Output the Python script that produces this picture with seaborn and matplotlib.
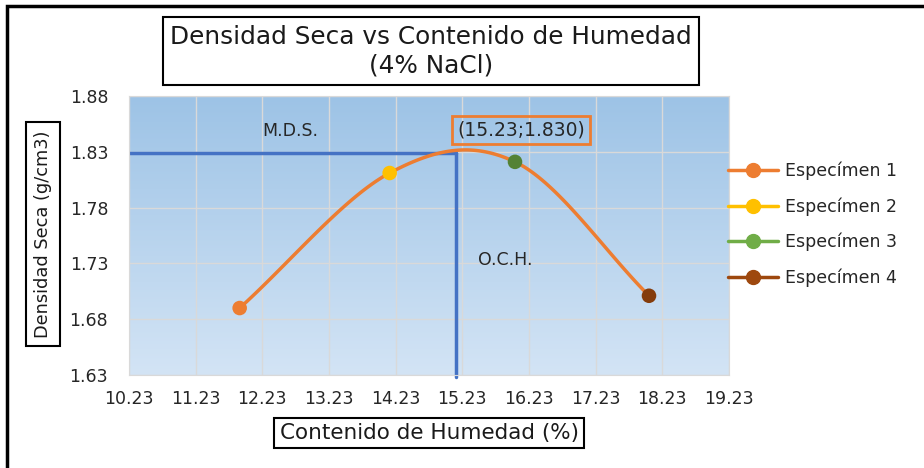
import numpy as np
import pandas as pd
import seaborn as sns
from matplotlib import pyplot as plt
from matplotlib.patches import Rectangle
from matplotlib.lines import Line2D
from matplotlib.colors import LinearSegmentedColormap

# data
specimens = ['Especímen 1', 'Especímen 2', 'Especímen 3', 'Especímen 4']
humedad = [11.89, 14.14, 16.02, 18.03]
densidad = [1.690, 1.811, 1.821, 1.701]
peak_label = '(15.23;1.830)'
guide_x = 15.14
guide_y = 1.829
x_ticks = [10.23, 11.23, 12.23, 13.23, 14.23, 15.23, 16.23, 17.23, 18.23, 19.23]
y_ticks = [1.63, 1.68, 1.73, 1.78, 1.83, 1.88]

marker_colors = ['#ed7d31', '#ffc000', '#548235', '#843c0c']
legend_colors = ['#ed7d31', '#ffc000', '#70ad47', '#9e480e']
line_color = '#ed7d31'
blue = '#4472c4'

df = pd.DataFrame({'humedad': humedad, 'densidad': densidad, 'specimen': specimens})


def smooth_curve(xs, ys, n=40):
    # catmull-rom smoothing, like Excel's smoothed scatter lines
    px = np.array(xs, float)
    py = np.array(ys, float)
    px = np.concatenate([[2 * px[0] - px[1]], px, [2 * px[-1] - px[-2]]])
    py = np.concatenate([[2 * py[0] - py[1]], py, [2 * py[-1] - py[-2]]])
    out_x, out_y = [], []
    t = np.linspace(0, 1, n)
    for i in range(1, len(px) - 2):
        for arr, out in ((px, out_x), (py, out_y)):
            p0, p1, p2, p3 = arr[i - 1], arr[i], arr[i + 1], arr[i + 2]
            out.extend(0.5 * (2 * p1 + (-p0 + p2) * t
                              + (2 * p0 - 5 * p1 + 4 * p2 - p3) * t ** 2
                              + (-p0 + 3 * p1 - 3 * p2 + p3) * t ** 3))
    return out_x, out_y


sns.set_style('white')
plt.rcParams['font.family'] = ['DejaVu Sans']

fig = plt.figure(figsize=(9.24, 4.68), dpi=100)
ax = fig.add_axes([129 / 924, 1 - 375 / 468, 600 / 924, 279 / 468])

# gradient background, darker at the top
grad = np.linspace(0, 1, 256).reshape(-1, 1)
cmap = LinearSegmentedColormap.from_list('bg', ['#d3e4f5', '#9dc3e6'])
ax.imshow(grad, aspect='auto', cmap=cmap, extent=[10.23, 19.23, 1.63, 1.88],
          origin='lower', zorder=0)

ax.set_xlim(10.23, 19.23)
ax.set_ylim(1.63, 1.88)
ax.set_xticks(x_ticks)
ax.set_yticks(y_ticks)
ax.set_xticklabels([f'{v:.2f}' for v in x_ticks])
ax.set_yticklabels([f'{v:.2f}' for v in y_ticks])
ax.tick_params(length=0, labelsize=12.5, colors='#262626')
ax.tick_params(axis='x', pad=11)
ax.tick_params(axis='y', pad=15)
ax.grid(True, color='#d9d9d9', lw=1, zorder=1)
for s in ax.spines.values():
    s.set_color('#d9d9d9')

# blue guide lines
ax.plot([10.23, guide_x], [guide_y, guide_y], color=blue, lw=2.5, zorder=2)
ax.plot([guide_x, guide_x], [guide_y, 1.628], color=blue, lw=2.5, zorder=2,
        clip_on=False)

cx, cy = smooth_curve(humedad, densidad)
ax.plot(cx, cy, color=line_color, lw=2.5, zorder=3)

sns.scatterplot(data=df, x='humedad', y='densidad', hue='specimen',
                palette=marker_colors, s=110, edgecolor='none', ax=ax,
                zorder=4, legend=False)
ax.set_xlabel('')
ax.set_ylabel('')

ax.text(12.645, 1.8486, 'M.D.S.', fontsize=12.5, color='#262626',
        ha='center', va='center', zorder=5)
ax.text(15.87, 1.733, 'O.C.H.', fontsize=12.5, color='#262626',
        ha='center', va='center', zorder=5)
ax.text(16.11, 1.8495, peak_label, fontsize=13.5, color='#262626',
        ha='center', va='center', zorder=5,
        bbox=dict(boxstyle='square,pad=0.25', fc='none', ec=line_color, lw=2))

# legend
handles = [Line2D([0], [0], color=c, lw=2.5, marker='o', markersize=10)
           for c in legend_colors]
fig.legend(handles, specimens, loc='upper left',
           bbox_to_anchor=(721 / 924, 1 - 155 / 468), frameon=False,
           prop={'size': 12.5}, handlelength=2.9, labelspacing=0.98,
           handletextpad=0.4, borderaxespad=0)

# titles in boxes
fig.text(431 / 924, 1 - 51 / 468, 'Densidad Seca vs Contenido de Humedad\n(4% NaCl)',
         ha='center', va='center', fontsize=17.8, linespacing=1.25, color='#1a1a1a',
         bbox=dict(boxstyle='square,pad=0.3', fc='white', ec='black', lw=1.5))
fig.text(429 / 924, 1 - 433 / 468, 'Contenido de Humedad (%)',
         ha='center', va='center', fontsize=15.5, color='#1a1a1a',
         bbox=dict(boxstyle='square,pad=0.25', fc='white', ec='black', lw=1.5))
fig.text(43 / 924, 1 - 234 / 468, 'Densidad Seca (g/cm3)', rotation=90,
         ha='center', va='center', fontsize=12.8, color='#1a1a1a',
         bbox=dict(boxstyle='square,pad=0.45', fc='white', ec='black', lw=1.5))

# outer frame
fig.patches.append(Rectangle((7 / 924, -0.1), 1.2, 1 - 6 / 468 + 0.1,
                             transform=fig.transFigure, fill=False,
                             ec='black', lw=2.5))

fig.savefig('out.png', dpi=100)
